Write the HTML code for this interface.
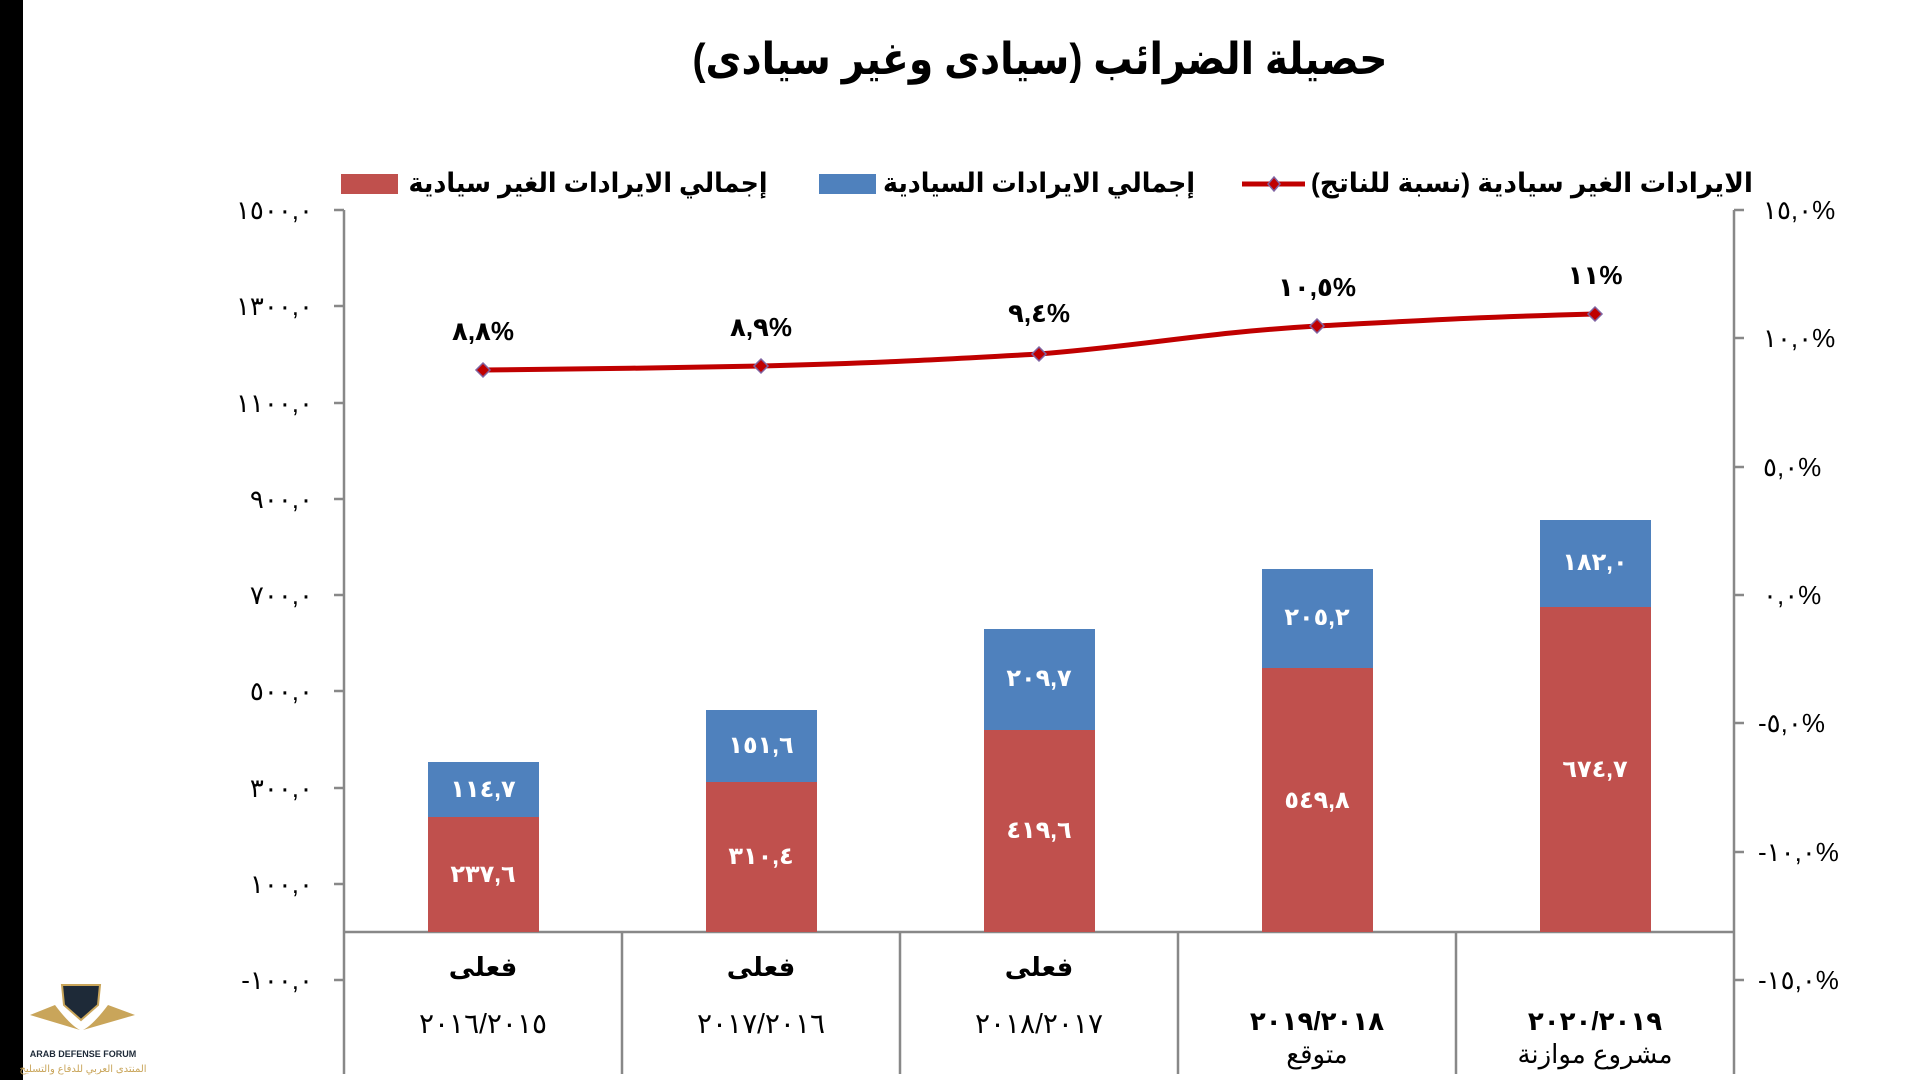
<!DOCTYPE html>
<html><head><meta charset="utf-8"><style>
html,body{margin:0;padding:0;background:#fff;width:1920px;height:1080px;overflow:hidden}
svg text{font-family:"Liberation Sans","Noto Sans CJK SC","DejaVu Sans",sans-serif}
</style></head><body>
<svg width="1920" height="1080" viewBox="0 0 1920 1080" xmlns="http://www.w3.org/2000/svg">
<rect x="0" y="0" width="23" height="1080" fill="#000"/>
<text x="1040" y="74" font-size="44" font-weight="bold" text-anchor="middle" textLength="695" lengthAdjust="spacingAndGlyphs">حصيلة الضرائب (سيادى وغير سيادى)</text>
<!-- legend -->
<rect x="341" y="174" width="57" height="20" fill="#C0504D"/>
<text x="588" y="192" font-size="27" font-weight="bold" text-anchor="middle" textLength="359" lengthAdjust="spacingAndGlyphs">إجمالي الايرادات الغير سيادية</text>
<rect x="819" y="174" width="57" height="20" fill="#4F81BD"/>
<text x="1039" y="192" font-size="27" font-weight="bold" text-anchor="middle" textLength="312" lengthAdjust="spacingAndGlyphs">إجمالي الايرادات السيادية</text>
<line x1="1242" y1="184" x2="1305" y2="184" stroke="#C00000" stroke-width="5"/>
<path d="M1274 177 L1280 184 L1274 191 L1268 184Z" fill="#C00000" stroke="#8064A2" stroke-width="1.5"/>
<text x="1532" y="192" font-size="27" font-weight="bold" text-anchor="middle" textLength="442" lengthAdjust="spacingAndGlyphs">الايرادات الغير سيادية (نسبة للناتج)</text>
<!-- axes -->
<g stroke="#888" stroke-width="2.5" fill="none">
<line x1="344" y1="210" x2="344" y2="1074"/>
<line x1="1734" y1="210" x2="1734" y2="1074"/>
<line x1="344" y1="932" x2="1734" y2="932"/>
<line x1="622" y1="932" x2="622" y2="1074"/>
<line x1="900" y1="932" x2="900" y2="1074"/>
<line x1="1178" y1="932" x2="1178" y2="1074"/>
<line x1="1456" y1="932" x2="1456" y2="1074"/>
<path d="M334 210H344M334 306H344M334 403H344M334 499H344M334 595H344M334 691H344M334 788H344M334 884H344M334 980H344"/>
<path d="M1734 210H1744M1734 338H1744M1734 467H1744M1734 595H1744M1734 723H1744M1734 852H1744M1734 980H1744"/>
</g>
<g font-size="26" text-anchor="end" fill="#000">
<text x="313" y="219">١٥٠٠,٠</text><text x="313" y="315">١٣٠٠,٠</text><text x="313" y="412">١١٠٠,٠</text>
<text x="313" y="508">٩٠٠,٠</text><text x="313" y="604">٧٠٠,٠</text><text x="313" y="700">٥٠٠,٠</text>
<text x="313" y="797">٣٠٠,٠</text><text x="313" y="893">١٠٠,٠</text><text x="313" y="989">-١٠٠,٠</text>
</g>
<g font-size="26" fill="#000">
<text x="1763" y="219">١٥,٠%</text><text x="1763" y="347">١٠,٠%</text><text x="1763" y="476">٥,٠%</text>
<text x="1763" y="604">٠,٠%</text><text x="1758" y="732">-٥,٠%</text><text x="1758" y="861">-١٠,٠%</text><text x="1758" y="989">-١٥,٠%</text>
</g>
<!-- bars -->
<g>
<rect x="428" y="817" width="111" height="115" fill="#C0504D"/><rect x="428" y="762" width="111" height="55" fill="#4F81BD"/>
<rect x="706" y="782" width="111" height="150" fill="#C0504D"/><rect x="706" y="710" width="111" height="72" fill="#4F81BD"/>
<rect x="984" y="730" width="111" height="202" fill="#C0504D"/><rect x="984" y="629" width="111" height="101" fill="#4F81BD"/>
<rect x="1262" y="668" width="111" height="264" fill="#C0504D"/><rect x="1262" y="569" width="111" height="99" fill="#4F81BD"/>
<rect x="1540" y="607" width="111" height="325" fill="#C0504D"/><rect x="1540" y="520" width="111" height="87" fill="#4F81BD"/>
</g>
<g font-size="24" font-weight="bold" fill="#fff" text-anchor="middle">
<text x="483" y="797">١١٤,٧</text><text x="483" y="882">٢٣٧,٦</text>
<text x="761" y="753">١٥١,٦</text><text x="761" y="864">٣١٠,٤</text>
<text x="1039" y="686">٢٠٩,٧</text><text x="1039" y="838">٤١٩,٦</text>
<text x="1317" y="625">٢٠٥,٢</text><text x="1317" y="808">٥٤٩,٨</text>
<text x="1595" y="570">١٨٢,٠</text><text x="1595" y="777">٦٧٤,٧</text>
</g>
<!-- line -->
<path d="M483 370 C600 369 650 368 761 366 C880 363 930 360 1039 354 C1150 345 1200 333 1317 326 C1430 320 1480 317 1595 314" fill="none" stroke="#C00000" stroke-width="5"/>
<g fill="#C00000" stroke="#8064A2" stroke-width="1.5">
<path d="M483 363L490 370L483 377L476 370Z"/><path d="M761 359L768 366L761 373L754 366Z"/>
<path d="M1039 347L1046 354L1039 361L1032 354Z"/><path d="M1317 319L1324 326L1317 333L1310 326Z"/>
<path d="M1595 307L1602 314L1595 321L1588 314Z"/>
</g>
<g font-size="26" font-weight="bold" text-anchor="middle" fill="#000">
<text x="483" y="340">٨,٨%</text><text x="761" y="336">٨,٩%</text><text x="1039" y="322">٩,٤%</text>
<text x="1317" y="296">١٠,٥%</text><text x="1595" y="284">١١%</text>
</g>
<!-- categories -->
<g font-size="26" text-anchor="middle" fill="#000">
<text x="483" y="976" font-weight="bold">فعلى</text><text x="483" y="1033" font-size="28">٢٠١٦/٢٠١٥</text>
<text x="761" y="976" font-weight="bold">فعلى</text><text x="761" y="1033" font-size="28">٢٠١٧/٢٠١٦</text>
<text x="1039" y="976" font-weight="bold">فعلى</text><text x="1039" y="1033" font-size="28">٢٠١٨/٢٠١٧</text>
<text x="1317" y="1030" font-weight="bold">٢٠١٩/٢٠١٨</text><text x="1317" y="1063">متوقع</text>
<text x="1595" y="1030" font-weight="bold">٢٠٢٠/٢٠١٩</text><text x="1595" y="1063">مشروع موازنة</text>
</g>
<!-- logo -->
<g>
<path d="M62 985 L100 985 L98 1005 L81 1020 L64 1005Z" fill="#1e2a38" stroke="#c9a55a" stroke-width="2"/>
<path d="M55 1005 Q70 1025 80 1030 L30 1015Z" fill="#c9a55a"/>
<path d="M108 1005 Q93 1025 83 1030 L135 1015Z" fill="#c9a55a"/>
<text x="83" y="1057" font-size="9" text-anchor="middle" fill="#1e2a38" font-weight="bold">ARAB DEFENSE FORUM</text>
<text x="83" y="1072" font-size="10" text-anchor="middle" fill="#c9a55a">المنتدى العربي للدفاع والتسليح</text>
</g>
</svg>
</body></html>
